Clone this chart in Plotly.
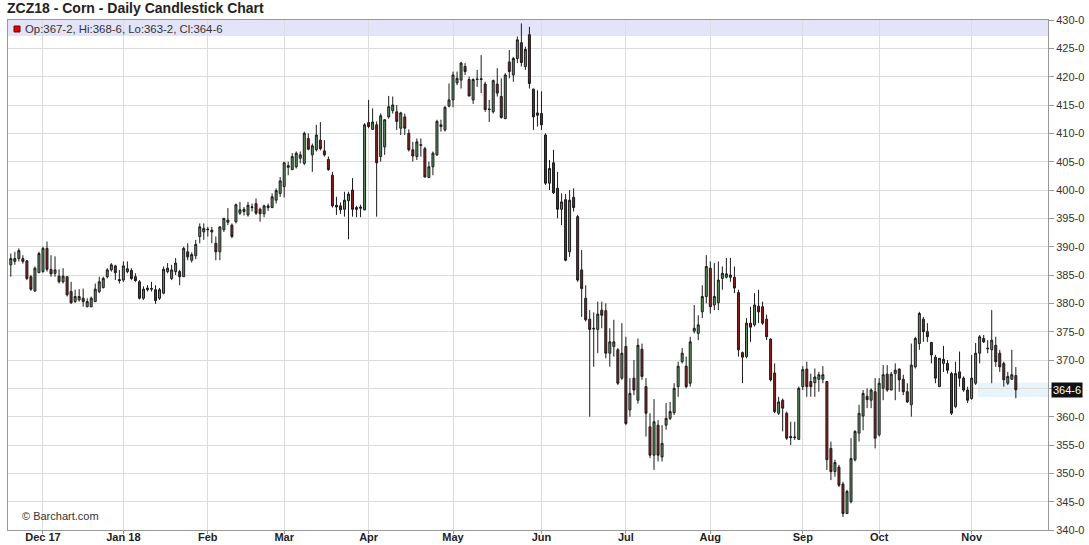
import pandas as pd
import plotly.graph_objects as go

# ---------------- data ----------------
holidays = ["2017-11-23", "2017-12-25", "2018-01-01", "2018-01-15", "2018-02-19",
            "2018-03-30", "2018-05-28", "2018-07-04", "2018-09-03"]
dates = [d for d in pd.bdate_range("2017-11-20", "2018-11-16")
         if d.strftime("%Y-%m-%d") not in holidays]

open_ = [386.8, 387.4, 387.9, 387.9, 387.5, 384.7, 382.2, 385.4, 385.6, 389.7,
         386.0, 385.3, 384.8, 383.8, 384.7, 382.1, 380.3, 380.6, 380.9, 379.4,
         379.4, 380.3, 382.1, 382.8, 384.7, 385.9, 386.6, 384.2, 384.1, 385.6,
         385.8, 384.7, 383.8, 380.9, 382.4, 382.5, 382.4, 380.9, 381.8, 385.6,
         384.4, 385.6, 385.6, 384.7, 389.1, 387.6, 388.4, 391.8, 392.6, 393.1,
         392.9, 390.6, 389.1, 393.0, 394.3, 393.8, 394.4, 395.9, 396.2, 395.6,
         396.9, 397.6, 396.6, 395.8, 396.9, 396.9, 398.2, 399.4, 400.6, 404.3,
         403.6, 404.1, 405.6, 404.7, 409.1, 406.2, 407.1, 408.8, 406.9, 405.4,
         402.6, 397.3, 397.2, 396.6, 398.1, 400.0, 396.9, 397.0, 396.5, 411.9,
         410.7, 411.5, 405.9, 407.6, 412.9, 414.0, 413.8, 410.9, 412.9, 410.0,
         407.1, 405.9, 408.0, 407.3, 402.2, 404.1, 406.2, 411.5, 410.6, 414.8,
         415.9, 418.9, 419.4, 421.8, 419.5, 415.9, 419.6, 419.5, 418.7, 414.3,
         413.8, 418.7, 416.5, 412.6, 422.6, 420.3, 423.2, 426.0, 421.8, 427.4,
         417.8, 413.6, 413.5, 409.7, 401.2, 404.8, 400.3, 396.6, 398.3, 389.1,
         398.7, 395.3, 385.9, 380.9, 377.2, 375.6, 375.4, 378.8, 378.7, 371.2,
         372.4, 371.8, 366.8, 372.4, 361.2, 366.8, 362.9, 371.9, 365.3, 358.2,
         353.2, 358.5, 352.9, 358.5, 359.7, 360.7, 365.3, 369.7, 368.9, 365.9,
         375.1, 374.7, 378.5, 381.2, 386.2, 379.7, 380.1, 384.4, 384.6, 385.0,
         384.6, 381.9, 371.3, 370.6, 376.5, 376.2, 379.5, 379.4, 377.2, 373.7,
         367.7, 360.6, 362.9, 360.6, 356.5, 356.3, 356.0, 365.3, 368.4, 366.2,
         366.0, 366.6, 366.6, 366.2, 354.4, 350.3, 351.1, 348.1, 342.9, 345.0,
         352.4, 357.1, 360.1, 363.6, 362.9, 364.4, 356.8, 365.0, 367.5, 364.7,
         367.6, 368.4, 366.6, 364.4, 362.1, 368.8, 372.9, 377.2, 375.0, 373.1,
         370.5, 365.3, 369.4, 369.4, 367.6, 361.8, 367.9, 366.8, 364.7, 363.2,
         365.9, 371.2, 373.8, 372.1, 371.8, 372.6, 371.2, 369.4, 365.9, 366.6,
         367.25]
high = [388.8, 389.1, 389.7, 388.5, 387.6, 385.0, 386.5, 389.1, 390.0, 390.9,
        388.5, 388.3, 386.0, 386.2, 384.7, 383.8, 382.4, 382.5, 382.6, 380.9,
        381.2, 383.5, 384.7, 384.7, 386.2, 387.1, 386.8, 385.9, 387.4, 387.4,
        386.2, 385.3, 384.1, 383.0, 383.2, 383.8, 383.2, 382.7, 386.5, 387.1,
        386.8, 388.0, 385.9, 390.0, 390.6, 389.0, 391.2, 394.1, 394.1, 393.5,
        393.5, 391.8, 393.5, 395.0, 396.8, 394.1, 397.6, 397.9, 397.0, 397.9,
        397.6, 398.5, 396.9, 397.4, 397.6, 399.4, 400.3, 402.3, 405.0, 405.0,
        406.5, 406.8, 406.8, 410.3, 410.0, 408.2, 411.5, 412.0, 408.8, 405.9,
        403.2, 398.8, 397.8, 399.7, 399.7, 402.1, 397.2, 397.4, 411.8, 415.9,
        414.4, 412.1, 413.5, 412.5, 416.6, 416.5, 415.0, 413.8, 413.5, 410.7,
        408.5, 409.1, 409.1, 407.6, 405.0, 406.8, 412.4, 412.4, 414.8, 418.8,
        420.9, 420.9, 422.6, 422.4, 420.0, 419.7, 421.2, 423.8, 419.1, 415.9,
        419.5, 421.5, 419.7, 420.6, 424.7, 423.5, 427.1, 429.4, 425.3, 428.8,
        417.9, 417.6, 417.4, 410.0, 405.3, 407.1, 403.2, 399.4, 399.3, 400.0,
        400.3, 395.6, 389.4, 383.2, 378.8, 378.4, 380.3, 380.3, 380.0, 375.6,
        377.1, 372.1, 376.5, 374.1, 366.8, 370.0, 373.8, 372.9, 366.8, 360.6,
        363.1, 359.4, 358.5, 362.4, 362.6, 365.9, 369.7, 372.1, 370.6, 374.1,
        379.7, 377.9, 383.2, 388.5, 387.4, 387.1, 387.4, 386.5, 388.0, 388.0,
        386.5, 382.4, 371.5, 377.4, 379.4, 381.8, 382.4, 380.3, 378.0, 373.8,
        369.4, 363.5, 363.2, 360.9, 359.1, 359.1, 365.3, 368.9, 369.7, 367.6,
        368.5, 367.9, 368.9, 366.2, 355.6, 352.4, 351.5, 348.5, 347.1, 356.2,
        357.6, 362.1, 364.7, 365.0, 365.0, 366.8, 366.8, 369.1, 369.1, 367.9,
        369.4, 368.5, 367.4, 365.9, 372.9, 374.1, 378.5, 377.6, 376.5, 373.2,
        370.9, 370.3, 372.5, 370.0, 367.9, 369.7, 371.5, 367.1, 365.3, 370.9,
        373.0, 374.4, 374.4, 373.5, 378.8, 374.1, 371.8, 369.7, 367.9, 371.8,
        368.75]
low = [384.7, 386.8, 387.4, 387.0, 384.1, 382.2, 382.0, 385.4, 385.4, 385.6,
       384.7, 384.7, 383.5, 383.5, 381.2, 379.9, 380.1, 380.3, 379.4, 379.3,
       379.3, 380.3, 381.8, 382.6, 384.4, 385.6, 384.1, 383.5, 383.8, 385.3,
       384.1, 383.8, 380.7, 380.6, 382.1, 382.1, 379.9, 380.6, 381.6, 385.3,
       384.1, 385.0, 383.2, 384.7, 387.6, 387.2, 387.8, 390.6, 391.2, 391.8,
       390.6, 387.6, 387.6, 392.6, 393.8, 391.5, 394.1, 395.6, 395.5, 395.3,
       396.2, 395.6, 394.4, 395.2, 396.3, 396.8, 397.6, 398.8, 398.7, 402.6,
       403.5, 403.8, 404.7, 404.4, 407.0, 403.2, 406.8, 407.0, 405.9, 403.4,
       396.9, 395.6, 395.8, 395.3, 391.3, 395.3, 395.2, 395.2, 396.4, 410.9,
       410.6, 395.3, 405.0, 406.2, 412.6, 413.5, 410.6, 409.7, 409.7, 406.8,
       405.0, 405.3, 405.9, 402.2, 402.1, 402.6, 406.0, 410.3, 410.3, 414.6,
       414.6, 418.5, 417.9, 420.3, 416.5, 415.2, 418.2, 417.1, 413.8, 412.0,
       413.5, 416.5, 412.6, 412.5, 419.7, 419.1, 422.4, 421.8, 421.2, 417.9,
       410.6, 411.2, 410.6, 400.9, 400.0, 399.3, 395.0, 393.8, 387.4, 388.2,
       396.2, 383.8, 377.6, 376.8, 360.0, 368.8, 371.2, 375.6, 370.3, 368.8,
       370.6, 365.6, 366.5, 358.5, 360.0, 363.8, 362.3, 366.5, 356.5, 352.7,
       350.6, 352.1, 352.1, 357.7, 359.4, 360.3, 363.5, 369.4, 365.0, 365.3,
       374.7, 373.5, 377.4, 380.0, 378.2, 378.8, 378.8, 382.4, 384.4, 383.8,
       381.8, 370.6, 365.9, 370.3, 373.2, 375.9, 376.5, 376.2, 373.5, 366.2,
       360.6, 360.3, 357.4, 355.9, 355.0, 355.9, 355.9, 364.7, 363.5, 363.5,
       363.5, 364.4, 365.9, 350.6, 348.8, 349.4, 347.6, 342.3, 342.9, 344.7,
       352.1, 355.6, 357.6, 361.5, 361.5, 354.4, 356.5, 362.9, 364.4, 364.7,
       362.9, 364.4, 363.8, 362.4, 360.0, 368.5, 371.8, 373.2, 373.2, 369.4,
       365.9, 365.3, 367.9, 367.6, 360.3, 361.5, 365.3, 364.4, 362.4, 363.0,
       365.6, 369.4, 373.0, 371.2, 365.9, 368.8, 367.9, 365.3, 365.6, 366.5,
       363.25]
close = [387.9, 387.9, 389.3, 387.4, 384.4, 382.5, 386.2, 388.8, 389.7, 386.0,
         385.2, 385.9, 383.8, 384.8, 381.5, 380.1, 381.2, 381.2, 380.3, 380.3,
         380.9, 382.5, 383.8, 384.4, 385.9, 386.8, 385.4, 384.0, 386.6, 386.1,
         384.4, 384.0, 380.9, 382.5, 382.7, 382.6, 380.5, 382.4, 386.0, 386.2,
         385.9, 387.1, 384.7, 389.7, 388.2, 388.6, 390.4, 393.5, 393.2, 393.0,
         392.6, 389.1, 393.5, 395.0, 394.7, 391.8, 397.4, 396.5, 396.6, 397.3,
         397.0, 395.9, 395.8, 397.2, 397.2, 398.8, 399.9, 401.6, 404.8, 404.0,
         405.9, 406.5, 406.2, 410.0, 407.2, 407.8, 409.7, 407.3, 406.2, 403.6,
         397.2, 397.0, 396.5, 398.2, 399.3, 396.6, 396.6, 396.8, 411.5, 411.2,
         412.0, 404.8, 413.1, 412.4, 414.7, 415.0, 412.1, 413.6, 410.9, 407.1,
         406.0, 408.5, 407.9, 402.3, 404.1, 406.5, 412.1, 411.2, 414.6, 415.9,
         420.3, 419.7, 422.4, 420.9, 416.6, 419.5, 419.5, 419.6, 414.2, 414.2,
         419.3, 417.1, 412.8, 420.3, 420.9, 423.2, 426.5, 422.5, 424.8, 418.8,
         412.9, 413.2, 411.5, 401.2, 403.8, 399.5, 396.6, 397.9, 387.6, 398.2,
         396.9, 384.1, 382.6, 377.1, 375.4, 375.5, 378.1, 377.9, 371.2, 373.2,
         373.2, 365.9, 371.2, 358.8, 364.1, 364.7, 372.6, 367.1, 360.6, 353.2,
         359.1, 353.2, 355.3, 359.7, 360.9, 365.0, 368.9, 371.2, 365.3, 373.2,
         375.6, 376.2, 381.2, 386.5, 379.4, 381.2, 384.1, 385.3, 385.2, 384.6,
         382.7, 371.8, 370.5, 376.5, 375.8, 379.7, 378.5, 376.5, 374.1, 366.5,
         360.9, 362.6, 361.5, 356.2, 356.3, 356.4, 365.0, 368.3, 365.3, 365.3,
         367.0, 367.4, 367.4, 352.4, 350.3, 351.9, 347.9, 342.9, 346.8, 352.6,
         357.4, 360.6, 364.1, 363.0, 364.7, 356.2, 365.9, 367.4, 364.7, 367.5,
         368.2, 366.5, 364.4, 362.6, 369.1, 373.8, 378.2, 375.0, 374.1, 370.9,
         366.8, 370.3, 370.1, 368.2, 360.6, 367.6, 366.8, 364.7, 362.9, 366.8,
         371.2, 374.1, 373.2, 372.0, 373.5, 369.7, 368.8, 366.5, 367.1, 367.4,
         364.75]

y_ticks = list(range(340, 431, 5))

# ---------------- helpers ----------------
def fmt(p):
    whole = int(p)
    return f"{whole}-{round((p - whole) * 8)}"

n = len(close)
xs = list(range(n))
month_idx, month_lbl = [], []
prev = None
for i, d in enumerate(dates[:n]):
    if prev is not None and d.month != prev.month:
        month_idx.append(i)
        if d.month == 12:
            month_lbl.append("Dec 17")
        elif d.month == 1:
            month_lbl.append("Jan 18")
        else:
            month_lbl.append(d.strftime("%b"))
    prev = d

W, H = 1089, 545
L, R, T, B = 8, 1048, 20, 530


def px(x):
    return (x - L) / (R - L)


def py(y):
    return (B - y) / (B - T)


fig = go.Figure()
fig.add_trace(go.Candlestick(
    x=xs, open=open_, high=high, low=low, close=close,
    increasing=dict(fillcolor="#5F9262", line=dict(color="#1b1b1b", width=1)),
    decreasing=dict(fillcolor="#8C1D1D", line=dict(color="#1b1b1b", width=1)),
    whiskerwidth=0, hoverinfo="skip", showlegend=False,
))

grid = "#dcdcdc"
fig.update_layout(
    width=W, height=H,
    margin=dict(l=L, r=W - R, t=T, b=H - B, pad=0, autoexpand=False),
    paper_bgcolor="white", plot_bgcolor="white",
    font=dict(family="Liberation Sans, Arial, sans-serif", color="#222"),
    xaxis=dict(
        range=[-0.7, 258.0], rangeslider=dict(visible=False),
        tickvals=month_idx, ticktext=month_lbl,
        tickfont=dict(size=11, color="#222", family="Liberation Sans, Arial, sans-serif",
                      weight="bold"),
        ticks="outside", ticklen=3, tickcolor="#999",
        ticklabelstandoff=-6,
        showgrid=True, gridcolor=grid, gridwidth=1,
        showline=True, linecolor="#9a9a9a", linewidth=1, mirror=True,
        zeroline=False, fixedrange=True,
    ),
    yaxis=dict(
        side="right", range=[340, 430],
        tickvals=y_ticks,
        ticktext=["" if v == 365 else f"{v}-0" for v in y_ticks],
        tickfont=dict(size=11, color="#333"),
        ticks="outside", ticklen=5, tickcolor="#999",
        showgrid=True, gridcolor=grid, gridwidth=1,
        showline=True, linecolor="#9a9a9a", linewidth=1, mirror=True,
        zeroline=False, fixedrange=True,
    ),
    showlegend=False,
)

# header band with last-bar values
fig.add_shape(type="rect", xref="paper", yref="paper",
              x0=0, x1=1, y0=py(36), y1=1,
              fillcolor="#E4E4F8", line=dict(width=0), layer="below")
fig.add_shape(type="rect", xref="paper", yref="paper",
              x0=px(14), x1=px(20), y0=py(32), y1=py(26),
              fillcolor="#E00000", line=dict(color="#700000", width=1))
fig.add_annotation(
    xref="paper", yref="paper", x=px(23), y=py(29), xanchor="left", yanchor="middle",
    text=f"Op:{fmt(open_[-1])}, Hi:{fmt(high[-1])}, Lo:{fmt(low[-1])}, Cl:{fmt(close[-1])}",
    showarrow=False, font=dict(size=11.4, color="#333"))

# faint band at last price
fig.add_shape(type="rect", xref="paper", yref="y",
              x0=px(978), x1=1, y0=close[-1] - 1.3, y1=close[-1] + 1.3,
              fillcolor="rgba(205,228,245,0.45)", line=dict(width=0), layer="below")

# last price label on the axis
fig.add_annotation(
    xref="paper", yref="y", x=1, y=close[-1], xanchor="left", yanchor="middle",
    xshift=3, text=fmt(close[-1]), showarrow=False, bgcolor="#111",
    font=dict(size=11, color="white"), borderpad=1)

# title
fig.add_annotation(
    xref="paper", yref="paper", x=px(5), y=py(8), xanchor="left", yanchor="middle",
    text="<b>ZCZ18 - Corn - Daily Candlestick Chart</b>", showarrow=False,
    font=dict(size=14, color="#222"))

# copyright
fig.add_annotation(
    xref="paper", yref="paper", x=px(20), y=py(516), xanchor="left", yanchor="middle",
    text="© Barchart.com", showarrow=False, font=dict(size=11, color="#333"))

fig.write_html("out.html", config={"displayModeBar": False},
               post_script="document.body.style.margin='0';document.body.style.padding='0';")
